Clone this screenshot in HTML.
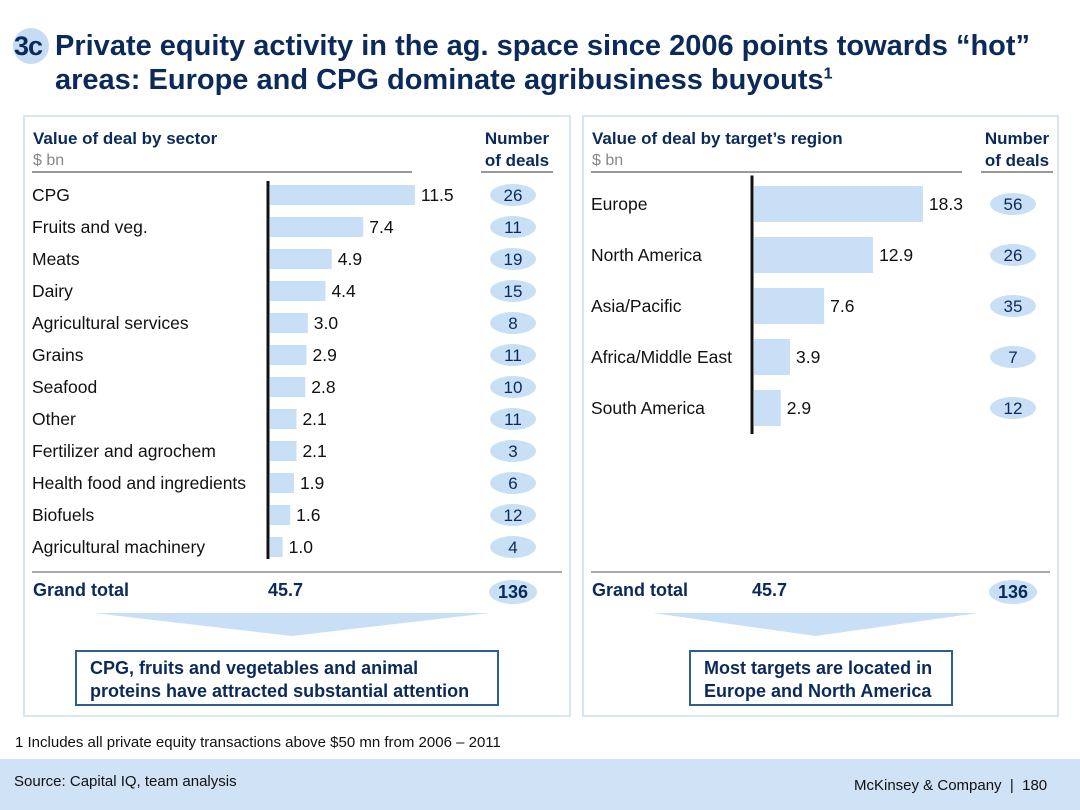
<!DOCTYPE html>
<html><head><meta charset="utf-8"><style>
body{margin:0;width:1080px;height:810px;background:#fff;font-family:"Liberation Sans",Arial,sans-serif;position:relative;overflow:hidden}
.t{position:absolute}
</style></head><body>
<div class="t" style="left:13px;top:28px;width:36px;height:36px;border-radius:50%;background:#c5dcf3"></div>
<div class="t" style="left:14px;top:31px;font-size:27px;font-weight:bold;color:#0b2a5b;letter-spacing:-1px">3c</div>
<div class="t" style="left:55px;top:29px;font-size:29px;font-weight:bold;color:#0b2a5b;line-height:34px;white-space:nowrap">Private equity activity in the ag. space since 2006 points towards “hot”<br>areas: Europe and CPG dominate agribusiness buyouts<sup style="font-size:16px;line-height:0">1</sup></div>
<svg id="c" class="t" style="left:0;top:0" width="1080" height="810"></svg>
<div class="t" style="left:15px;top:734px;font-size:15px;color:#111">1 Includes all private equity transactions above $50 mn from 2006 – 2011</div>
<div class="t" style="left:0;top:759px;width:1080px;height:51px;background:#cfe2f6"></div>
<div class="t" style="left:14px;top:773px;font-size:15px;color:#111">Source: Capital IQ, team analysis</div>
<div class="t" style="left:854px;top:777px;font-size:15px;color:#111">McKinsey &amp; Company &nbsp;|&nbsp; 180</div>
<script>
const sectors=["CPG","Fruits and veg.","Meats","Dairy","Agricultural services","Grains","Seafood","Other","Fertilizer and agrochem","Health food and ingredients","Biofuels","Agricultural machinery"];
const sectorValues=[11.5,7.4,4.9,4.4,3.0,2.9,2.8,2.1,2.1,1.9,1.6,1.0];
const sectorDeals=[26,11,19,15,8,11,10,11,3,6,12,4];
const regions=["Europe","North America","Asia/Pacific","Africa/Middle East","South America"];
const regionValues=[18.3,12.9,7.6,3.9,2.9];
const regionDeals=[56,26,35,7,12];
const totals=["45.7","45.7"];
const dealTotals=[136,136];
const NS="http://www.w3.org/2000/svg";
const svg=document.getElementById('c');
function el(tag,a,txt){const e=document.createElementNS(NS,tag);for(const k in a)e.setAttribute(k,a[k]);if(txt!==undefined)e.textContent=txt;svg.appendChild(e);return e;}
function panel(k,x,w,title,labels,vals,deals,ax,scale,y0,step,bh,px,lineEnd,msg,mx,mw){
 let p=el('rect',{x:x,y:116,width:w,height:600,fill:'none',stroke:'#d7e6f2','stroke-width':2});
 
 el('text',{x:x+9,y:144,'font-size':17,'font-weight':'bold',fill:'#0b2a5b'},title);
 el('text',{x:x+9,y:165,'font-size':16,fill:'#888'},'$ bn');
 el('line',{x1:x+8,y1:172,x2:lineEnd,y2:172,stroke:'#333','stroke-width':1});
 el('text',{x:px,y:144,'font-size':17,'font-weight':'bold',fill:'#0b2a5b','text-anchor':'middle'},'Number');
 el('text',{x:px,y:166,'font-size':17,'font-weight':'bold',fill:'#0b2a5b','text-anchor':'middle'},'of deals');
 el('line',{x1:px-36,y1:172,x2:px+36,y2:172,stroke:'#333','stroke-width':1});
 labels.forEach((l,i)=>{const cy=y0+i*step;
  let t=el('text',{x:x+8,y:cy+6,'font-size':17.5,fill:'#111'},l);
  
  let b=el('rect',{x:ax+2,y:cy-bh/2,width:vals[i]*scale,height:bh,fill:'#c8dff5'});
  
  el('text',{x:ax+vals[i]*scale+8,y:cy+6,'font-size':17.5,fill:'#111'},vals[i].toFixed(1));
  let e=el('ellipse',{cx:px-4,cy:cy,rx:23,ry:11,fill:'#c8dff5'});
  
  el('text',{x:px-4,y:cy+6,'font-size':17,fill:'#0b2a5b','text-anchor':'middle'},deals[i]);
 });
 el('line',{x1:ax,y1:y0-step/2+(step>40?-3:2),x2:ax,y2:y0+(labels.length-1)*step+(step>40?26:12),stroke:'#111','stroke-width':3});
 el('line',{x1:x+8,y1:572,x2:x+w-8,y2:572,stroke:'#555','stroke-width':1});
 el('text',{x:x+9,y:596,'font-size':18,'font-weight':'bold',fill:'#0b2a5b'},'Grand total');
 el('text',{x:ax,y:596,'font-size':18,'font-weight':'bold',fill:'#0b2a5b'},totals[k]);
 el('ellipse',{cx:px-4,cy:592,rx:24,ry:12,fill:'#c8dff5'});
 el('text',{x:px-4,y:598,'font-size':18,'font-weight':'bold',fill:'#0b2a5b','text-anchor':'middle'},dealTotals[k]);
 el('polygon',{points:`${x+70},613 ${x+w-80},613 ${(x+x+w-10)/2},636`,fill:'#c8dff5'});
 el('rect',{x:mx,y:651,width:mw,height:54,fill:'#fff',stroke:'#2d5f93','stroke-width':2});
 el('text',{x:mx+14,y:674,'font-size':18,'font-weight':'bold',fill:'#0b2a5b'},msg[0]);
 el('text',{x:mx+14,y:697,'font-size':18,'font-weight':'bold',fill:'#0b2a5b'},msg[1]);
}
panel(0,24,546,'Value of deal by sector',sectors,sectorValues,sectorDeals,268,12.6,195,32,20,517,412,
 ['CPG, fruits and vegetables and animal','proteins have attracted substantial attention'],76,422);
panel(1,583,475,'Value of deal by target’s region',regions,regionValues,regionDeals,752,9.23,204,51,36,1017,962,
 ['Most targets are located in','Europe and North America'],690,262);
</script>
</body></html>
